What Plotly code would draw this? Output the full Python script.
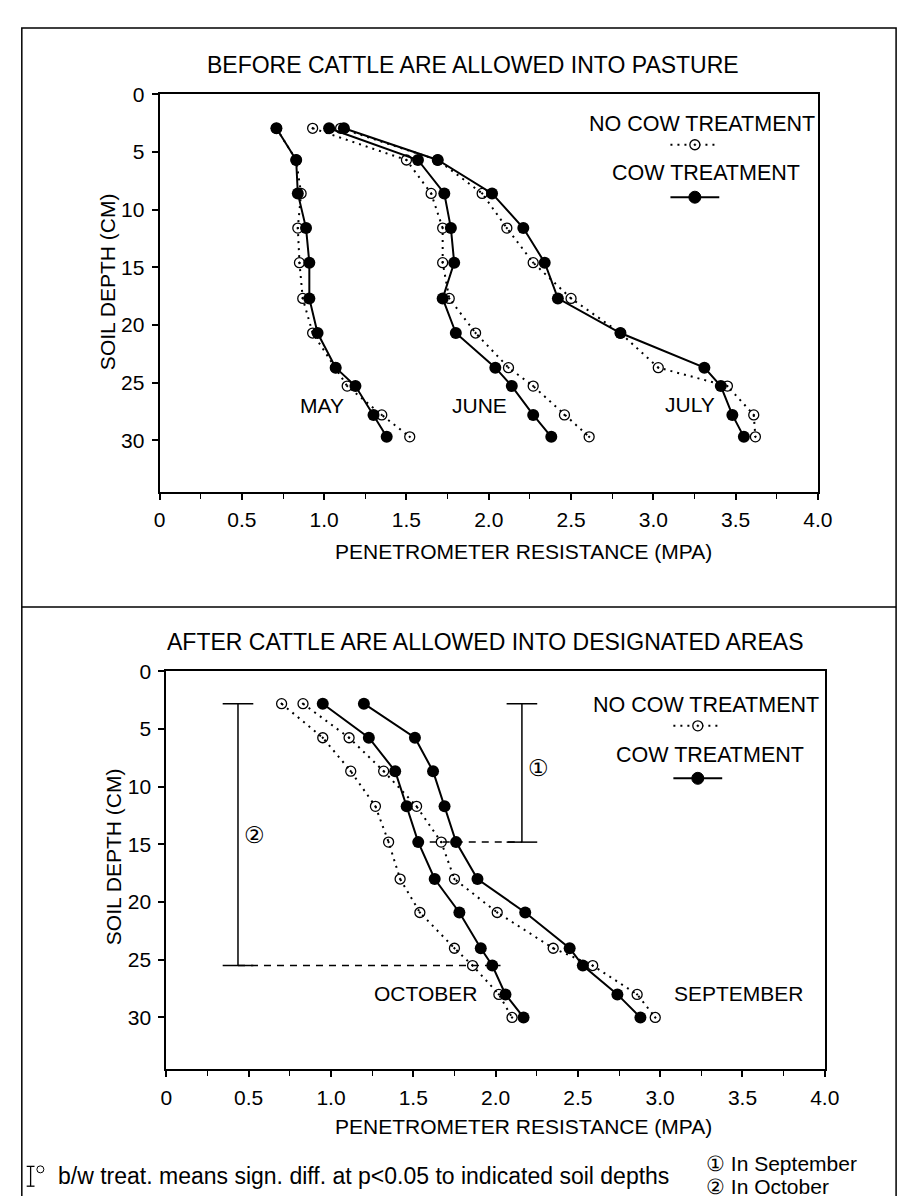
import plotly.graph_objects as go

W, H = 907, 1196

# ---------------- data: BEFORE cattle (top panel) ----------------
depth_before = [2.95, 5.7, 8.6, 11.6, 14.6, 17.7, 20.7, 23.7, 25.3, 27.8, 29.7]
may_nocow  = [0.71, 0.83, 0.86, 0.84, 0.85, 0.87, 0.93, 1.07, 1.14, 1.35, 1.52]
may_cow    = [0.71, 0.83, 0.84, 0.89, 0.91, 0.91, 0.96, 1.07, 1.19, 1.30, 1.38]
june_nocow = [0.93, 1.50, 1.65, 1.72, 1.72, 1.76, 1.92, 2.12, 2.27, 2.46, 2.61]
june_cow   = [1.03, 1.57, 1.73, 1.77, 1.79, 1.72, 1.80, 2.04, 2.14, 2.27, 2.38]
july_nocow = [1.10, 1.69, 1.96, 2.11, 2.27, 2.50, 2.80, 3.03, 3.45, 3.61, 3.62]
july_cow   = [1.12, 1.69, 2.02, 2.21, 2.34, 2.42, 2.80, 3.31, 3.41, 3.48, 3.55]

# ---------------- data: AFTER cattle (bottom panel) ----------------
depth_after = [2.8, 5.75, 8.65, 11.7, 14.8, 18.0, 20.9, 24.0, 25.5, 28.0, 30.0]
oct_nocow = [0.70, 0.95, 1.12, 1.27, 1.35, 1.42, 1.54, 1.75, 1.86, 2.02, 2.10]
oct_cow   = [0.95, 1.23, 1.39, 1.46, 1.53, 1.63, 1.78, 1.91, 1.98, 2.06, 2.17]
sep_nocow = [0.83, 1.11, 1.32, 1.52, 1.67, 1.75, 2.01, 2.35, 2.59, 2.86, 2.97]
sep_cow   = [1.20, 1.51, 1.62, 1.69, 1.76, 1.89, 2.18, 2.45, 2.53, 2.74, 2.88]

# significance ranges (depth top, depth bottom) for September (1) and October (2)
sig_labels = ["①", "②"]
sig_top = [2.8, 2.8]
sig_bottom = [14.8, 25.5]

# ticks
x_ticks = [0, 0.5, 1.0, 1.5, 2.0, 2.5, 3.0, 3.5, 4.0]
x_ticktext = ["0", "0.5", "1.0", "1.5", "2.0", "2.5", "3.0", "3.5", "4.0"]
y_ticks = [0, 5, 10, 15, 20, 25, 30]

titles = ["BEFORE CATTLE ARE ALLOWED INTO PASTURE",
          "AFTER CATTLE ARE ALLOWED INTO DESIGNATED AREAS"]
x_title = "PENETROMETER RESISTANCE (MPA)"
y_title = "SOIL DEPTH (CM)"
legend_names = ["NO COW TREATMENT", "COW TREATMENT"]
months_before = ["MAY", "JUNE", "JULY"]
months_after = ["OCTOBER", "SEPTEMBER"]
footnote = "b/w treat. means sign. diff. at p<0.05 to indicated soil depths"
foot_keys = ["① In September", "② In October"]

FONT = "Liberation Sans, Arial, Helvetica, sans-serif"
BLACK = "black"


def px(x):
    return x / W


def py(y):
    return 1 - y / H


fig = go.Figure()

# panel geometry in pixels
top_box = dict(x0=149, x1=823, y0=75, y1=477)
bot_box = dict(x0=156, x1=830, y0=658, y1=1060)


def add_pair(nocow, cow, depth, xa, ya):
    fig.add_trace(go.Scatter(
        x=nocow, y=depth, xaxis=xa, yaxis=ya, mode="lines+markers",
        line=dict(color=BLACK, width=2, dash="2px,5px"),
        marker=dict(symbol="circle-open-dot", size=10, color=BLACK,
                    line=dict(width=1.3, color=BLACK)),
        showlegend=False, cliponaxis=False))
    fig.add_trace(go.Scatter(
        x=cow, y=depth, xaxis=xa, yaxis=ya, mode="lines+markers",
        line=dict(color=BLACK, width=2),
        marker=dict(symbol="circle", size=12, color=BLACK),
        showlegend=False, cliponaxis=False))


add_pair(may_nocow, may_cow, depth_before, "x", "y")
add_pair(june_nocow, june_cow, depth_before, "x", "y")
add_pair(july_nocow, july_cow, depth_before, "x", "y")
add_pair(oct_nocow, oct_cow, depth_after, "x2", "y2")
add_pair(sep_nocow, sep_cow, depth_after, "x2", "y2")

axis_common = dict(showline=True, linecolor=BLACK, linewidth=2, mirror=True,
                   showgrid=False, zeroline=False, ticks="outside",
                   ticklen=6, tickwidth=1.5, tickcolor=BLACK,
                   tickfont=dict(family=FONT, size=21, color=BLACK))


def xaxis(box, anchor):
    d = dict(axis_common)
    d.update(domain=[px(box["x0"]), px(box["x1"])], range=[0, 4.0],
             tickvals=x_ticks, ticktext=x_ticktext, anchor=anchor,
             minor=dict(ticks="outside", dtick=0.25, ticklen=5,
                        tickwidth=1.2, tickcolor=BLACK, showgrid=False),
             ticklabelstandoff=2)
    return d


def yaxis(box, anchor):
    d = dict(axis_common)
    d.update(domain=[py(box["y1"]), py(box["y0"])], range=[34.5, 0],
             tickvals=y_ticks, anchor=anchor, ticklabelstandoff=3)
    return d


fig.update_layout(
    width=W, height=H, margin=dict(l=0, r=0, t=0, b=0),
    paper_bgcolor="white", plot_bgcolor="white",
    xaxis=xaxis(top_box, "y"), yaxis=yaxis(top_box, "x"),
    xaxis2=xaxis(bot_box, "y2"), yaxis2=yaxis(bot_box, "x2"),
    font=dict(family=FONT, color=BLACK),
)

ann = []
shapes = []


def text(x, y, s, size, xanchor="center", angle=0, xref="paper", yref="paper"):
    ann.append(dict(x=x, y=y, xref=xref, yref=yref, text=s, showarrow=False,
                    xanchor=xanchor, yanchor="middle", textangle=angle,
                    font=dict(family=FONT, size=size, color=BLACK)))


# outer frame and divider
shapes.append(dict(type="rect", xref="paper", yref="paper",
                   x0=px(8), x1=px(903), y0=py(1193), y1=py(8),
                   line=dict(color=BLACK, width=1.5)))
shapes.append(dict(type="line", xref="paper", yref="paper",
                   x0=px(8), x1=px(903), y0=py(593), y1=py(593),
                   line=dict(color=BLACK, width=1.5)))

# panel titles
text(px(470), py(45), titles[0], 23)
text(px(482), py(628), titles[1], 23)

# axis titles
text(px(522), py(537), x_title, 21)
text(px(522), py(1118), x_title, 21)
text(px(96), py(264), y_title, 21, angle=-90)
text(px(102), py(845), y_title, 21, angle=-90)

# month labels (data coordinates)
for lbl, xv, yv in zip(months_before, [0.985, 1.945, 3.22], [27.0, 27.0, 26.9]):
    text(xv, yv, lbl, 21, xref="x", yref="y")
text(1.90, 27.9, months_after[0], 21, xanchor="right", xref="x2", yref="y2")
text(3.07, 27.9, months_after[1], 21, xanchor="left", xref="x2", yref="y2")


# legends (drawn keys)
def legend(x_text0, y0, kx):
    text(px(x_text0), py(y0), legend_names[0], 21.5, xanchor="left")
    text(px(x_text0 + 23), py(y0 + 50), legend_names[1], 21.5, xanchor="left")
    ky1 = y0 + 21
    ky2 = y0 + 74
    shapes.append(dict(type="line", xref="paper", yref="paper",
                       x0=px(kx - 25), x1=px(kx + 22), y0=py(ky1), y1=py(ky1),
                       line=dict(color=BLACK, width=2, dash="2px,5px")))
    shapes.append(dict(type="circle", xref="paper", yref="paper",
                       xsizemode="pixel", ysizemode="pixel",
                       xanchor=px(kx), yanchor=py(ky1), x0=-5, x1=5, y0=-5, y1=5,
                       fillcolor="white", line=dict(color=BLACK, width=1.3)))
    shapes.append(dict(type="circle", xref="paper", yref="paper",
                       xsizemode="pixel", ysizemode="pixel",
                       xanchor=px(kx), yanchor=py(ky1), x0=-1, x1=1, y0=-1, y1=1,
                       fillcolor=BLACK, line=dict(color=BLACK, width=0.5)))
    shapes.append(dict(type="line", xref="paper", yref="paper",
                       x0=px(kx - 25), x1=px(kx + 25), y0=py(ky2), y1=py(ky2),
                       line=dict(color=BLACK, width=2)))
    shapes.append(dict(type="circle", xref="paper", yref="paper",
                       xsizemode="pixel", ysizemode="pixel",
                       xanchor=px(kx), yanchor=py(ky2), x0=-6, x1=6, y0=-6, y1=6,
                       fillcolor=BLACK, line=dict(color=BLACK, width=1)))


legend(587, 105, 697)
legend(591, 692, 700)

# significance bars in bottom panel (data coordinates)
sig_x = [2.16, 0.435]
sig_dash_from = [1.60, 2.03]
cap = 0.093
for i in range(2):
    xv = sig_x[i]
    shapes.append(dict(type="line", xref="x2", yref="y2", x0=xv, x1=xv,
                       y0=sig_top[i], y1=sig_bottom[i], line=dict(color=BLACK, width=1.5)))
    for yy in (sig_top[i], sig_bottom[i]):
        shapes.append(dict(type="line", xref="x2", yref="y2", x0=xv - cap, x1=xv + cap,
                           y0=yy, y1=yy, line=dict(color=BLACK, width=1.5)))
    shapes.append(dict(type="line", xref="x2", yref="y2",
                       x0=min(xv, sig_dash_from[i]), x1=max(xv, sig_dash_from[i]),
                       y0=sig_bottom[i], y1=sig_bottom[i],
                       line=dict(color=BLACK, width=1.5, dash="7px,6px")))
text(2.26, 8.4, sig_labels[0], 23, xref="x2", yref="y2")
text(0.535, 14.2, sig_labels[1], 23, xref="x2", yref="y2")

# footnote
fx, fy = 17, 1168
shapes.append(dict(type="line", xref="paper", yref="paper", x0=px(fx), x1=px(fx),
                   y0=py(fy + 10), y1=py(fy - 10), line=dict(color=BLACK, width=1.3)))
for yy in (fy - 10, fy + 10):
    shapes.append(dict(type="line", xref="paper", yref="paper", x0=px(fx - 4), x1=px(fx + 4),
                       y0=py(yy), y1=py(yy), line=dict(color=BLACK, width=1.3)))
shapes.append(dict(type="circle", xref="paper", yref="paper",
                   xsizemode="pixel", ysizemode="pixel",
                   xanchor=px(fx + 10), yanchor=py(fy - 7), x0=-3.5, x1=3.5, y0=-3.5, y1=3.5,
                   line=dict(color=BLACK, width=1)))
text(px(43), py(fy), footnote, 23, xanchor="left")
text(px(706), py(1155), foot_keys[0], 21, xanchor="left")
text(px(706), py(1178), foot_keys[1], 21, xanchor="left")

fig.update_layout(annotations=ann, shapes=shapes)
fig.write_html("out.html")
